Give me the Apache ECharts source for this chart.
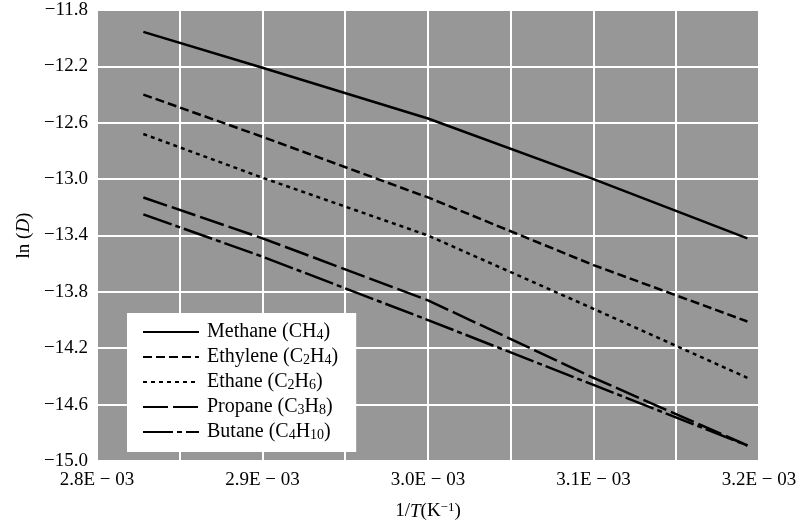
<!DOCTYPE html>
<html>
<head>
<meta charset="utf-8">
<script src="https://cdn.jsdelivr.net/npm/echarts@6/dist/echarts.min.js"></script>
<style>
html,body{margin:0;padding:0;background:#fff;}
#chart{width:800px;height:526px;}
</style>
</head>
<body>
<div id="chart"></div>
<script>
// 1/T values (K^-1)
const xValues = [0.002828, 0.0029, 0.0030, 0.0031, 0.003193];
// ln(D) values
const methane  = [-11.955, -12.21, -12.57, -13.00, -13.42];
const ethylene = [-12.40, -12.70, -13.13, -13.61, -14.01];
const ethane   = [-12.68, -12.99, -13.40, -13.92, -14.41];
const propane  = [-13.13, -13.42, -13.86, -14.41, -14.89];
const butane   = [-13.25, -13.55, -14.00, -14.46, -14.89];

const seriesNames = ['Methane', 'Ethylene', 'Ethane', 'Propane', 'Butane'];
const formulas = [
  [['C',''],['H','4']],
  [['C','2'],['H','4']],
  [['C','2'],['H','6']],
  [['C','3'],['H','8']],
  [['C','4'],['H','10']]
];
const seriesValues = [methane, ethylene, ethane, propane, butane];
const dashes = ['solid', [9, 4], [4, 4], [25, 5], [30, 4, 5, 4]];

const FONT = 'Liberation Serif';

function formulaText(i) {
  return formulas[i].map(function (p) {
    return p[0] + (p[1] ? '{s|' + p[1] + '}' : '');
  }).join('');
}
function minusFix(s) { return s.replace('-', '\u2212'); }

const chart = echarts.init(document.getElementById('chart'));
chart.setOption({
  animation: false,
  backgroundColor: '#ffffff',
  grid: {
    left: 97, right: 41, top: 10, bottom: 65,
    show: true, backgroundColor: '#979797', borderWidth: 0
  },
  xAxis: {
    type: 'value',
    min: 0.0028, max: 0.0032, interval: 0.00005,
    name: '1/{i|T}(K{sup|\u22121})',
    nameLocation: 'middle', nameGap: 40,
    nameTextStyle: {
      fontFamily: FONT, fontSize: 19, color: '#000',
      rich: {
        i: {fontFamily: FONT, fontSize: 19, fontStyle: 'italic', color: '#000'},
        sup: {fontFamily: FONT, fontSize: 13, color: '#000', verticalAlign: 'top', padding: [0, 0, 8, 0]}
      }
    },
    axisLine: {show: false},
    axisTick: {show: false},
    splitLine: {show: true, lineStyle: {color: '#ffffff', width: 2}},
    axisLabel: {
      margin: 10, fontFamily: FONT, fontSize: 19, color: '#000',
      formatter: function (v) {
        const k = Math.round(v * 1e5);
        if (k % 2 !== 0) return '';
        return (k / 100).toFixed(1) + 'E \u2212 03';
      }
    }
  },
  yAxis: {
    type: 'value',
    min: -15.0, max: -11.8, interval: 0.4,
    name: 'ln ({i|D})',
    nameLocation: 'middle', nameGap: 60, nameRotate: 90,
    nameTextStyle: {
      fontFamily: FONT, fontSize: 19, color: '#000',
      rich: {
        i: {fontFamily: FONT, fontSize: 19, fontStyle: 'italic', color: '#000'}
      }
    },
    axisLine: {show: false},
    axisTick: {show: false},
    splitLine: {show: true, lineStyle: {color: '#ffffff', width: 2}},
    axisLabel: {
      margin: 9, fontFamily: FONT, fontSize: 19, color: '#000',
      formatter: function (v) { return minusFix(v.toFixed(1)); }
    }
  },
  legend: {
    orient: 'vertical',
    left: 127, top: 313,
    backgroundColor: '#ffffff',
    padding: [9, 18, 10, 15],
    itemWidth: 56, itemHeight: 14, itemGap: 5,
    itemStyle: {opacity: 0},
    data: seriesNames,
    formatter: function (name) {
      const i = seriesNames.indexOf(name);
      return name + ' (' + formulaText(i) + ')';
    },
    textStyle: {
      fontFamily: FONT, fontSize: 20, color: '#000', padding: [0, 0, 0, 3],
      rich: {
        s: {fontFamily: FONT, fontSize: 14, color: '#000', verticalAlign: 'bottom', padding: [5, 0, 0, 0]}
      }
    }
  },
  series: seriesNames.map(function (n, i) {
    return {
      name: n,
      type: 'line',
      symbol: 'none',
      data: xValues.map(function (x, j) { return [x, seriesValues[i][j]]; }),
      lineStyle: {color: '#000', width: 2.5, type: dashes[i]},
      itemStyle: {color: '#000'},
      z: 3
    };
  })
});
</script>
</body>
</html>
